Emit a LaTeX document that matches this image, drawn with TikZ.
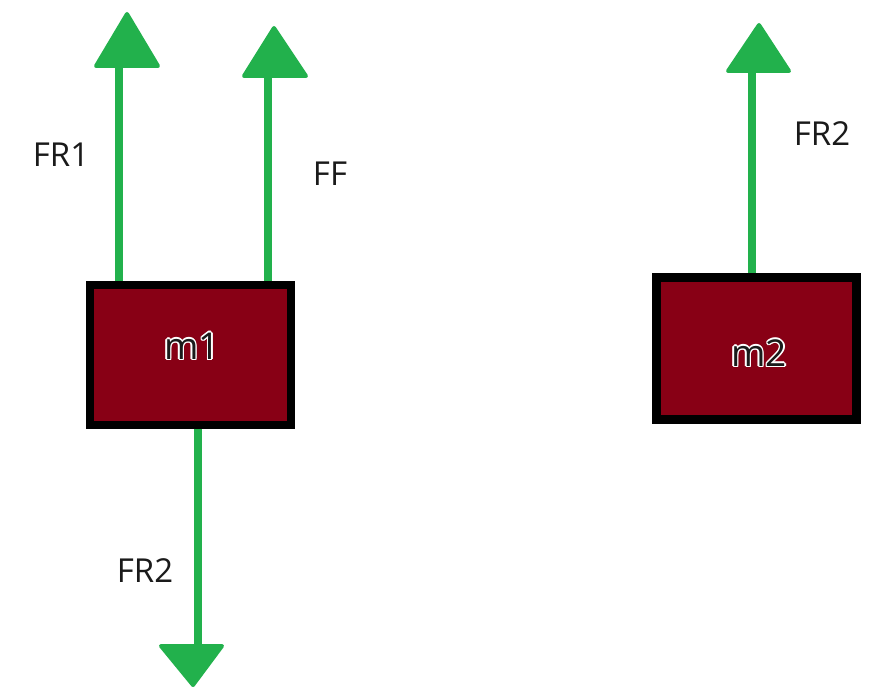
\documentclass[tikz,border=0pt]{standalone}
\usepackage{fontspec}
\setmainfont{Open Sans}
\usetikzlibrary{calc}
\definecolor{fgreen}{HTML}{22B14C}
\definecolor{mred}{HTML}{880015}
\definecolor{ink}{HTML}{1A1A1A}
\begin{document}
\begin{tikzpicture}[x=1pt,y=-1pt,
  massbox/.style={draw=black, fill=mred, minimum width=201pt, minimum height=140pt, inner sep=0pt},
  shaft/.style={draw=fgreen, line width=8.5pt},
  head/.style={fill=fgreen, draw=fgreen, line width=4pt, line join=round},
  lbl/.style={text=ink, font=\fontsize{33}{40}\selectfont, inner sep=0pt},
  mlbl/.style={font=\fontsize{37}{44}\selectfont, inner sep=0pt}]
\useasboundingbox[fill=white] (0,0) rectangle (891,690);
% coordinates of arrow heads
\coordinate (fr1tip) at (127,14);  \coordinate (fr1base) at (119,67);
\coordinate (fftip) at (274,28);   \coordinate (ffbase) at (268,76);
\coordinate (m2tip) at (759,25);   \coordinate (m2base) at (752,72);
\coordinate (fr2tip) at (193,685); \coordinate (fr2base) at (198,644);
% boxes (positions)
\path (190.5,355) coordinate (m1c);
\path (756.5,348.5) coordinate (m2c);
% shafts
\draw[shaft] (119,285) -- (fr1base);
\draw[shaft] (268,287) -- (ffbase);
\draw[shaft] (752,277) -- (m2base);
\draw[shaft] (198,425) -- (fr2base);
% boxes
\node[massbox, line width=8pt] (m1) at (m1c) {};
\node[massbox, line width=9pt, minimum width=200pt, minimum height=142pt] (m2) at (m2c) {};
% heads
\path[head] (fr1tip) -- (96,66) -- (158,66) -- cycle;
\path[head] (fftip) -- (244,76) -- (306,76) -- cycle;
\path[head] (m2tip) -- (728,71) -- (789,71) -- cycle;
\path[head] (fr2tip) -- (161,646) -- (222,646) -- cycle;
% labels
\node[lbl] (lfr1) at (61,155) {FR1};
\node[lbl] (lff) at (330,174) {FF};
\node[lbl] (lfr2a) at (822,134) {FR2};
\node[lbl] (lfr2b) at (145,571) {FR2};
% mass labels with white halo
\foreach \a in {0,45,...,315} {
  \node[mlbl, text=white] at ($(192,346)+(\a:1.4)$) {m1};
  \node[mlbl, text=white] at ($(759,353)+(\a:1.4)$) {m2};
}
\node[mlbl, text=ink] (t1) at (192,346) {m1};
\node[mlbl, text=ink] (t2) at (759,353) {m2};
\end{tikzpicture}
\end{document}
